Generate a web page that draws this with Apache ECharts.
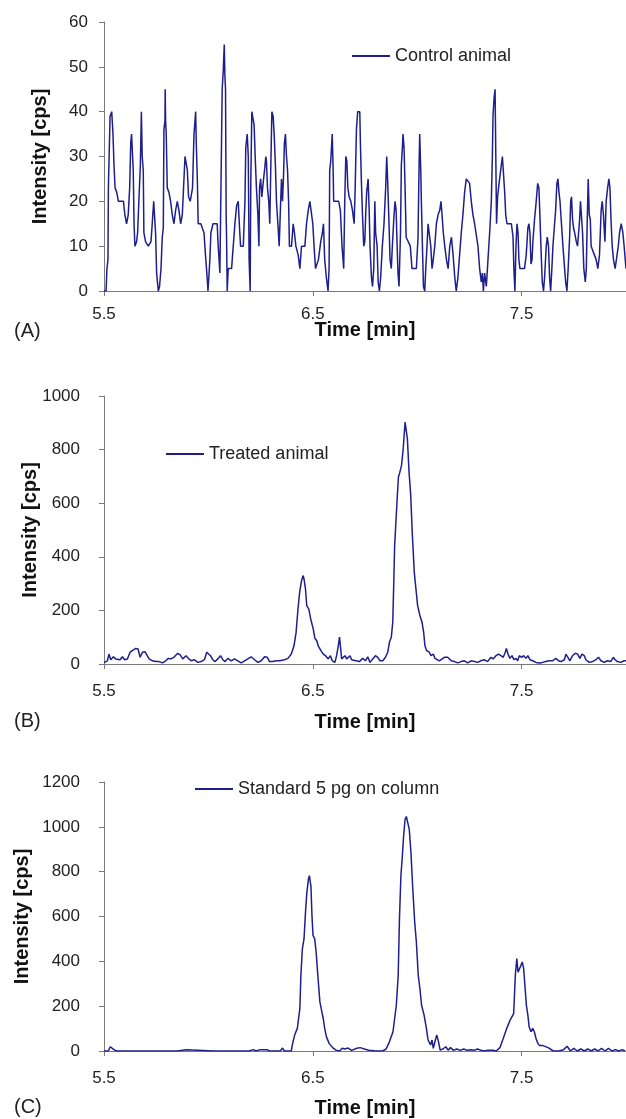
<!DOCTYPE html>
<html>
<head>
<meta charset="utf-8">
<script src="https://cdn.jsdelivr.net/npm/echarts@6/dist/echarts.min.js"></script>
<style>
  html, body { margin: 0; padding: 0; background: #fff; }
  #chart { width: 626px; height: 1119px; }
</style>
</head>
<body>
<div id="chart"></div>
<script>
// time ticks shared by the three chromatograms
var timeTicks = [5.5, 6.5, 7.5];

// (A) control animal
var timeA = [5.500,5.510,5.514,5.519,5.521,5.529,5.537,5.543,5.548,5.553,5.561,5.569,5.593,5.600,5.608,5.616,5.623,5.628,5.632,5.637,5.640,5.644,5.648,5.656,5.661,5.667,5.674,5.679,5.683,5.688,5.691,5.699,5.712,5.720,5.725,5.731,5.738,5.744,5.747,5.752,5.760,5.766,5.773,5.779,5.784,5.787,5.792,5.793,5.795,5.798,5.803,5.811,5.819,5.827,5.835,5.843,5.851,5.859,5.867,5.875,5.881,5.888,5.892,5.899,5.905,5.913,5.919,5.924,5.931,5.939,5.942,5.947,5.951,5.964,5.971,5.979,5.986,5.994,5.998,6.002,6.007,6.012,6.022,6.042,6.047,6.055,6.066,6.071,6.076,6.079,6.082,6.085,6.087,6.090,6.095,6.111,6.119,6.127,6.135,6.143,6.148,6.154,6.167,6.175,6.179,6.186,6.191,6.195,6.200,6.203,6.208,6.215,6.219,6.224,6.230,6.237,6.242,6.245,6.250,6.256,6.262,6.269,6.275,6.278,6.283,6.289,6.294,6.299,6.304,6.310,6.315,6.321,6.326,6.334,6.339,6.344,6.350,6.355,6.360,6.364,6.369,6.374,6.379,6.384,6.388,6.398,6.406,6.412,6.419,6.430,6.438,6.446,6.462,6.470,6.478,6.486,6.495,6.500,6.506,6.513,6.521,6.527,6.538,6.546,6.551,6.557,6.565,6.573,6.578,6.581,6.586,6.593,6.597,6.600,6.608,6.624,6.632,6.640,6.648,6.653,6.658,6.663,6.668,6.674,6.682,6.690,6.698,6.703,6.709,6.715,6.725,6.728,6.733,6.738,6.744,6.749,6.754,6.758,6.765,6.770,6.774,6.781,6.786,6.792,6.797,6.801,6.808,6.813,6.819,6.825,6.833,6.841,6.849,6.854,6.859,6.865,6.870,6.876,6.881,6.889,6.894,6.899,6.904,6.908,6.913,6.920,6.924,6.929,6.932,6.937,6.942,6.947,6.956,6.967,6.975,6.996,7.004,7.009,7.012,7.017,7.020,7.025,7.030,7.036,7.041,7.047,7.052,7.060,7.065,7.071,7.077,7.084,7.092,7.100,7.108,7.114,7.119,7.125,7.132,7.140,7.148,7.156,7.164,7.172,7.180,7.187,7.195,7.203,7.211,7.219,7.227,7.235,7.243,7.251,7.259,7.267,7.275,7.283,7.291,7.299,7.307,7.312,7.317,7.323,7.331,7.339,7.347,7.355,7.360,7.363,7.368,7.373,7.376,7.380,7.385,7.392,7.400,7.408,7.414,7.419,7.424,7.430,7.451,7.459,7.463,7.468,7.473,7.478,7.483,7.487,7.492,7.514,7.522,7.530,7.535,7.540,7.545,7.550,7.554,7.562,7.570,7.577,7.583,7.589,7.594,7.599,7.605,7.610,7.618,7.623,7.629,7.634,7.639,7.645,7.650,7.658,7.663,7.669,7.674,7.679,7.684,7.688,7.698,7.706,7.711,7.717,7.723,7.730,7.735,7.739,7.744,7.749,7.754,7.762,7.768,7.773,7.778,7.782,7.787,7.792,7.798,7.805,7.810,7.814,7.819,7.824,7.829,7.833,7.841,7.849,7.857,7.865,7.873,7.881,7.886,7.892,7.899,7.905,7.912,7.918,7.923,7.929,7.934,7.940,7.948,7.956,7.963,7.969,7.977,7.985,7.991,8.000];
var intensityA = [0,0,5,7,23,39,40,35,28,23,22,20,20,17,15,17,23,33,35,30,27,15,10,11,13,20,28,40,30,27,13,11,10,10,11,15,20,20,13,4,0,1,5,12,14,36,38,45,38,35,23,22,20,17,15,18,20,18,15,17,23,30,30,27,21,20,20,23,35,40,33,25,15,15,14,13,8,3,0,3,7,13,15,15,10,4,45,49,55,48,45,17,12,0,5,5,10,15,19,20,15,10,10,20,32,35,30,7,0,24,40,40,37,30,23,17,10,23,25,21,24,27,30,29,23,20,15,28,40,39,35,28,20,14,10,17,25,20,26,33,35,30,27,20,10,10,15,13,10,8,5,10,10,15,18,20,20,15,10,5,5,7,11,13,15,7,3,0,5,27,29,35,28,20,20,20,18,10,5,20,30,29,23,21,20,18,15,23,36,40,40,33,24,17,10,11,18,22,25,18,10,3,1,5,20,13,10,2,0,3,10,15,23,30,24,15,7,5,10,17,20,18,10,4,1,13,28,32,35,32,23,12,12,10,5,5,12,28,35,27,20,10,1,0,5,10,15,15,10,5,7,10,15,17,18,20,17,13,10,7,5,10,12,8,3,0,3,8,13,17,22,25,25,24,20,17,15,15,10,5,2,4,0,4,1,7,13,20,30,39,43,45,32,15,21,24,27,30,30,22,17,15,15,12,5,0,10,15,13,7,5,5,8,14,15,13,6,7,11,16,20,24,23,15,8,2,0,3,10,12,10,3,0,5,10,15,18,24,25,22,20,17,10,5,2,0,5,12,20,21,16,14,13,11,10,13,16,20,20,13,5,2,5,15,25,17,16,10,10,8,7,5,8,18,20,17,11,20,23,25,23,15,10,7,5,5,10,13,15,13,10,5];

// (B) treated animal
var timeB = [5.500,5.503,5.516,5.524,5.532,5.545,5.556,5.564,5.577,5.588,5.599,5.612,5.625,5.636,5.652,5.663,5.673,5.684,5.696,5.705,5.716,5.732,5.748,5.764,5.780,5.796,5.808,5.821,5.837,5.853,5.865,5.877,5.893,5.904,5.917,5.933,5.949,5.965,5.981,5.992,6.000,6.010,6.021,6.032,6.045,6.058,6.069,6.080,6.093,6.109,6.125,6.141,6.157,6.173,6.189,6.205,6.221,6.237,6.253,6.269,6.282,6.293,6.309,6.325,6.341,6.365,6.381,6.397,6.410,6.420,6.429,6.437,6.446,6.454,6.458,6.465,6.471,6.481,6.490,6.502,6.510,6.519,6.526,6.539,6.550,6.561,6.574,6.584,6.593,6.606,6.614,6.622,6.628,6.633,6.638,6.646,6.654,6.662,6.670,6.678,6.686,6.707,6.723,6.739,6.752,6.763,6.774,6.787,6.800,6.811,6.822,6.835,6.848,6.859,6.867,6.876,6.883,6.887,6.892,6.898,6.904,6.910,6.917,6.925,6.933,6.942,6.949,6.953,6.961,6.969,6.977,6.986,6.994,7.002,7.013,7.023,7.031,7.037,7.045,7.058,7.066,7.077,7.085,7.093,7.106,7.114,7.130,7.146,7.163,7.178,7.194,7.210,7.226,7.242,7.258,7.274,7.290,7.305,7.321,7.337,7.353,7.364,7.377,7.390,7.401,7.412,7.422,7.427,7.435,7.444,7.454,7.463,7.473,7.481,7.489,7.500,7.510,7.521,7.530,7.540,7.553,7.569,7.585,7.600,7.616,7.632,7.648,7.664,7.677,7.688,7.705,7.712,7.722,7.731,7.744,7.757,7.768,7.779,7.789,7.800,7.808,7.824,7.840,7.856,7.868,7.880,7.896,7.911,7.927,7.939,7.948,7.959,7.975,7.991,8.000];
var intensityB = [5,6,12,37,16,27,19,25,16,27,16,19,44,50,58,56,25,44,46,40,19,12,9,9,4,12,21,19,27,40,34,19,31,21,12,16,6,9,16,44,50,31,16,9,19,31,16,9,21,12,19,12,4,12,19,27,16,6,12,27,25,9,9,12,12,16,21,37,68,118,205,268,311,330,317,280,218,205,168,131,96,87,68,50,37,31,19,31,12,6,31,68,100,62,19,21,31,19,12,31,16,12,9,21,12,27,6,19,31,25,12,12,25,44,81,100,156,280,442,529,616,697,716,741,803,903,909,840,716,629,479,342,280,218,181,156,118,68,50,44,31,37,21,27,12,6,25,25,12,9,4,9,12,4,12,9,6,12,16,9,25,19,31,37,31,25,44,58,37,21,31,16,21,12,31,25,31,21,31,16,12,6,4,6,9,12,12,21,12,9,16,37,25,12,31,40,37,21,37,31,16,6,9,16,25,12,6,12,9,25,16,9,6,12,12];

// (C) standard 5 pg on column
var timeC = [5.500,5.521,5.530,5.538,5.551,5.563,5.637,5.645,5.654,5.852,5.860,5.893,5.901,6.025,6.030,6.037,6.133,6.137,6.144,6.195,6.202,6.215,6.228,6.237,6.248,6.256,6.265,6.281,6.294,6.344,6.355,6.364,6.397,6.402,6.413,6.426,6.438,6.443,6.450,6.458,6.466,6.471,6.479,6.484,6.488,6.491,6.496,6.501,6.509,6.516,6.524,6.534,6.540,6.550,6.557,6.565,6.578,6.595,6.611,6.628,6.641,6.653,6.669,6.686,6.711,6.727,6.747,6.768,6.801,6.834,6.851,6.867,6.884,6.900,6.909,6.915,6.922,6.929,6.935,6.942,6.948,6.955,6.962,6.970,6.978,6.988,6.996,7.005,7.013,7.021,7.033,7.044,7.052,7.057,7.064,7.071,7.077,7.087,7.094,7.102,7.110,7.123,7.137,7.148,7.160,7.173,7.190,7.206,7.223,7.239,7.256,7.272,7.289,7.305,7.322,7.338,7.363,7.379,7.396,7.412,7.429,7.445,7.462,7.470,7.477,7.483,7.490,7.497,7.503,7.510,7.517,7.523,7.530,7.536,7.545,7.553,7.561,7.569,7.578,7.586,7.602,7.627,7.652,7.677,7.701,7.718,7.734,7.750,7.767,7.784,7.800,7.817,7.833,7.850,7.866,7.883,7.900,7.916,7.933,7.949,7.966,7.982,7.995];
var intensityC = [0,0,19,19,4,0,0,6,0,0,6,6,0,0,6,0,0,6,0,0,6,6,0,6,6,0,6,6,0,0,13,0,0,27,71,101,190,338,456,501,634,701,767,782,752,738,604,516,501,441,338,219,190,145,101,64,34,15,4,0,12,9,13,3,12,15,9,3,0,0,9,41,86,204,338,589,782,871,960,1034,1046,1041,989,886,738,575,486,338,278,204,160,101,49,41,27,49,12,49,71,41,4,9,19,4,15,3,9,3,9,3,6,3,9,3,0,3,3,0,15,56,101,138,167,338,412,352,367,382,397,367,278,204,160,108,86,101,86,56,34,24,24,15,0,0,6,21,0,12,0,9,0,9,0,9,0,12,0,12,0,6,0,6,0];

var panelNames = ['Control animal', 'Treated animal', 'Standard 5 pg on column'];
var panelLetters = ['(A)', '(B)', '(C)'];
var yMax = [60, 1000, 1200];
var yStep = [10, 200, 200];

function pairs(t, v) {
    var out = [];
    for (var i = 0; i < t.length; i++) {
        out.push([t[i], v[i]]);
    }
    return out;
}

var lineColor = '#1f1f8c';
var axisColor = '#7a7a7a';
var textColor = '#222';
var fontFam = '"Liberation Sans", Arial, Helvetica, sans-serif';

// layout of the three panels
var grids = [
    {left: 104, right: 0, top: 22, height: 269},
    {left: 104, right: 0, top: 396, height: 268},
    {left: 104, right: 0, top: 782, height: 269}
];
var xNameGap = [29, 48, 47];
var xLabelMargin = [15, 19, 19];
var yLabelMargin = [16, 24, 24];
var yNameGap = [54, 64, 72];
var legendPos = [[352, 46], [166, 444], [195, 779]];
var letterY = [332, 722, 1108];

var xAxes = [], yAxes = [], series = [], legends = [], graphics = [];
for (var k = 0; k < 3; k++) {
    xAxes.push({
        gridIndex: k,
        type: 'value',
        min: 5.5,
        max: 8.0,
        name: 'Time [min]',
        nameLocation: 'middle',
        nameGap: xNameGap[k],
        nameMoveOverlap: false,
        nameTextStyle: {fontFamily: fontFam, fontWeight: 'bold', fontSize: 20, color: '#111'},
        axisLine: {show: true, lineStyle: {color: axisColor, width: 1}},
        axisTick: {show: true, length: 5, lineStyle: {color: axisColor}, customValues: timeTicks},
        axisLabel: {
            fontFamily: fontFam, fontSize: 17, color: textColor, margin: xLabelMargin[k],
            customValues: timeTicks,
            formatter: function (v) { return v.toFixed(1); }
        },
        splitLine: {show: false}
    });
    yAxes.push({
        gridIndex: k,
        type: 'value',
        min: 0,
        max: yMax[k],
        interval: yStep[k],
        name: 'Intensity [cps]',
        nameLocation: 'middle',
        nameGap: yNameGap[k],
        nameMoveOverlap: false,
        nameTextStyle: {fontFamily: fontFam, fontWeight: 'bold', fontSize: 20, color: '#111'},
        axisLine: {show: true, lineStyle: {color: axisColor, width: 1}},
        axisTick: {show: true, length: 5, lineStyle: {color: axisColor}},
        axisLabel: {
            fontFamily: fontFam, fontSize: 17, color: textColor, margin: yLabelMargin[k],
            formatter: function (v) { return String(v); }
        },
        splitLine: {show: false}
    });
    legends.push({
        data: [panelNames[k]],
        left: legendPos[k][0],
        top: legendPos[k][1],
        icon: 'rect',
        itemWidth: 38,
        itemHeight: 2,
        padding: 0,
        selectedMode: false,
        textStyle: {fontFamily: fontFam, fontSize: 18, color: textColor, lineHeight: 20}
    });
    graphics.push({
        type: 'text',
        left: 14,
        top: letterY[k] - 11,
        style: {text: panelLetters[k], font: '20px ' + fontFam, fill: textColor}
    });
}

var dataSets = [pairs(timeA, intensityA), pairs(timeB, intensityB), pairs(timeC, intensityC)];
for (var s = 0; s < 3; s++) {
    series.push({
        name: panelNames[s],
        type: 'line',
        xAxisIndex: s,
        yAxisIndex: s,
        symbol: 'none',
        showSymbol: false,
        clip: true,
        lineStyle: {color: lineColor, width: 1.5},
        itemStyle: {color: lineColor},
        data: dataSets[s]
    });
}

var myChart = echarts.init(document.getElementById('chart'));
myChart.setOption({
    animation: false,
    backgroundColor: '#fff',
    grid: grids,
    xAxis: xAxes,
    yAxis: yAxes,
    legend: legends,
    graphic: graphics,
    series: series
});
</script>
</body>
</html>
